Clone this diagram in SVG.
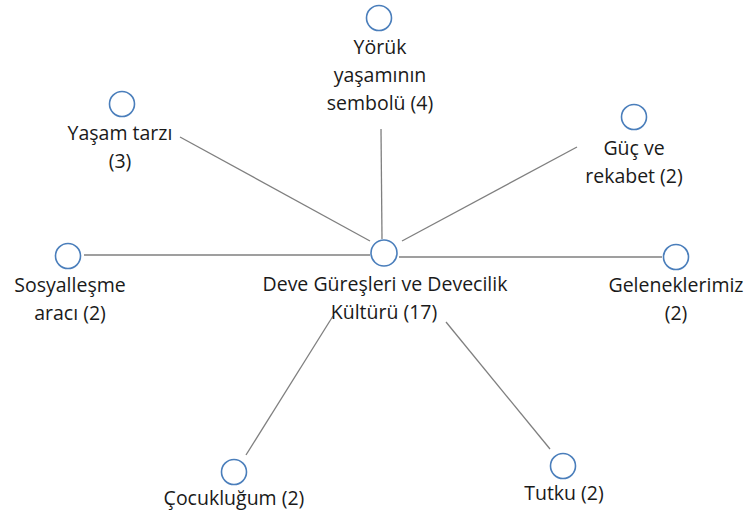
<svg xmlns="http://www.w3.org/2000/svg" width="749" height="520" viewBox="0 0 749 520">
<style>
.n{fill:none;stroke:#4a7ebb;stroke-width:1.6}
.t{font-family:"Open Sans","Noto Sans","Liberation Sans",sans-serif;font-size:19.5px;fill:#1a1a1a;text-anchor:middle}
.e{stroke:#7f7f7f;stroke-width:1.3;fill:none}
</style>
<rect width="749" height="520" fill="#fff"/>
<g id="connectors">
<line class="e" x1="382" y1="239" x2="381" y2="129"/>
<line class="e" x1="370" y1="241" x2="180" y2="137"/>
<line class="e" x1="402" y1="241" x2="577" y2="147"/>
<line class="e" x1="370" y1="255" x2="84" y2="255"/>
<line class="e" x1="399" y1="257" x2="662" y2="257"/>
<line class="e" x1="333" y1="316" x2="246" y2="455"/>
<line class="e" x1="446" y1="322" x2="550" y2="449"/>
</g>
<g id="center">
<circle class="n" cx="384" cy="253" r="13"/>
<text class="t" x="385" y="291">Deve Güreşleri ve Devecilik</text>
<text class="t" x="384" y="319">Kültürü (17)</text>
</g>
<g id="yoruk">
<circle class="n" cx="379" cy="18" r="12.5"/>
<text class="t" x="380" y="54">Yörük</text>
<text class="t" x="380" y="82">yaşamının</text>
<text class="t" x="380" y="110">sembolü (4)</text>
</g>
<g id="yasam">
<circle class="n" cx="122" cy="104" r="12.5"/>
<text class="t" x="120" y="140">Yaşam tarzı</text>
<text class="t" x="120" y="168">(3)</text>
</g>
<g id="guc">
<circle class="n" cx="634" cy="117" r="12.5"/>
<text class="t" x="634" y="155">Güç ve</text>
<text class="t" x="634" y="183">rekabet (2)</text>
</g>
<g id="sosyal">
<circle class="n" cx="68" cy="256" r="12.5"/>
<text class="t" x="70" y="292">Sosyalleşme</text>
<text class="t" x="70" y="320">aracı (2)</text>
</g>
<g id="gelenek">
<circle class="n" cx="676" cy="257" r="12.5"/>
<text class="t" x="676" y="292">Geleneklerimiz</text>
<text class="t" x="676" y="320">(2)</text>
</g>
<g id="cocuk">
<circle class="n" cx="234" cy="472" r="12.5"/>
<text class="t" x="234" y="505">Çocukluğum (2)</text>
</g>
<g id="tutku">
<circle class="n" cx="563" cy="466" r="12.5"/>
<text class="t" x="564" y="500">Tutku (2)</text>
</g>
</svg>
